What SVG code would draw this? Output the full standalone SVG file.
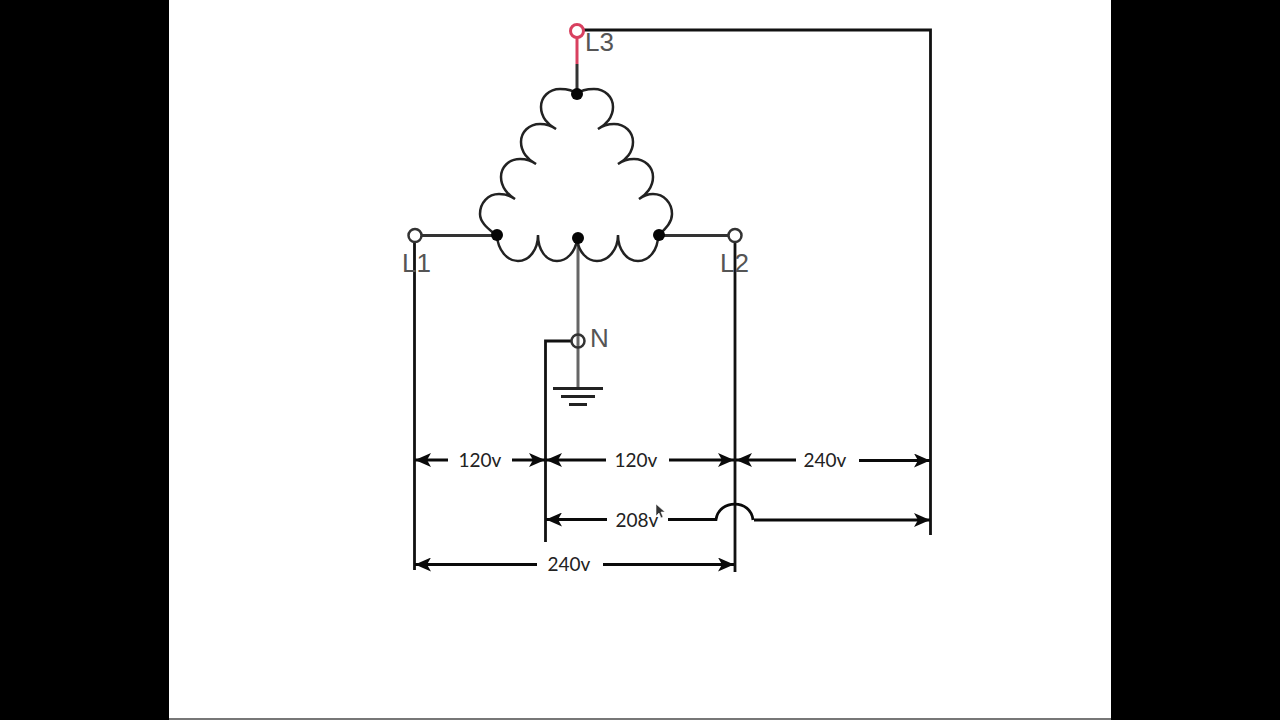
<svg xmlns="http://www.w3.org/2000/svg" width="1280" height="720" viewBox="0 0 1280 720">
<defs>
<marker id="arr" viewBox="0 0 17 14" refX="16" refY="7" markerWidth="17" markerHeight="14" markerUnits="userSpaceOnUse" orient="auto-start-reverse"><path d="M0 0L16 7L0 14L4 7Z" fill="#0a0a0a"/></marker>
</defs>
<style>
.w{fill:none;stroke:#111;stroke-width:2.800}
.g{fill:none;stroke:#666;stroke-width:3}
.coil{fill:none;stroke:#222;stroke-width:2.500}
.dim{fill:none;stroke:#0a0a0a;stroke-width:2.800;marker-end:url(#arr)}
.lbl{font-family:"Liberation Sans",Arial,sans-serif;font-size:26px;fill:#555}
.val{font-family:Lato,"Liberation Sans",sans-serif;font-size:19px;fill:#222;text-anchor:middle}
.dot{fill:#050505}
.term{fill:#fff;stroke:#333;stroke-width:2.500}
</style>
<rect width="1280" height="720" fill="#000"/>
<rect x="169" y="0" width="942" height="718" fill="#fff"/>
<rect x="169" y="718" width="942" height="2" fill="#777"/>
<g id="connectors">
<path class="w" d="M583 30H930.500V535"/>
<path class="g" d="M577 64V92" style="stroke:#333"/>
<path d="M577 38V64" fill="none" stroke="#d8405f" stroke-width="3"/>
<path class="w" d="M422 235.500H497M662 235.500H728" style="stroke:#333"/>
<path class="w" d="M414.500 243V570M735 243V572"/>
<path class="g" d="M578 242V388"/>
<path class="w" d="M571 341H545.500V542"/>
</g>
<g id="coil"><path class="coil" d="M577 94C573 90 566 89 560 89C549 89 541 97 541 107C541 117 548 125 556 129C552 126 546 124 540 124C529 124 521 132 521 142C521 152 528 160 536 164C532 161 526 159 520 159C509 159 501 167 501 177C501 187 508 195 515 199C511 196 505 194 499 194C488 194 480 203 480 214C480 223 489 229 497 236C498 250 507 261 518 261C529 261 538 250 538 235C538 250 546 261 557 261C567 261 575 252 577 240C579 252 587 261 597 261C608 261 618 250 618 235C618 250 627 261 638 261C649 261 658 250 658 236C665 229 672 223 672 214C672 203 664 194 653 194C647 194 643 196 639 199C646 195 653 187 653 177C653 167 645 159 634 159C628 159 622 161 618 164C626 160 633 152 633 142C633 132 625 124 614 124C608 124 602 126 598 129C606 125 613 117 613 107C613 97 605 89 594 89C588 89 581 90 577 94"/></g>
<g id="node-center-top"><circle class="dot" cx="577" cy="94" r="6"/></g>
<g id="node-center-left"><circle class="dot" cx="497" cy="235" r="6"/></g>
<g id="node-center-mid"><circle class="dot" cx="578" cy="238" r="6"/></g>
<g id="node-center-right"><circle class="dot" cx="659" cy="235" r="6"/></g>
<g id="L3"><circle class="term" cx="577" cy="31" r="6.500" style="stroke:#d8405f;stroke-width:3"/><text class="lbl" x="585" y="51">L3</text></g>
<g id="L1"><circle class="term" cx="415" cy="235.500" r="6.500"/><text class="lbl" x="402" y="272">L1</text></g>
<g id="L2"><circle class="term" cx="735" cy="235.500" r="6.500"/><text class="lbl" x="720" y="272">L2</text></g>
<g id="N"><circle class="term" cx="578" cy="341" r="6.500" style="fill:none"/><text class="lbl" x="590" y="347">N</text></g>
<g id="ground"><path d="M553 388.500H603M561 396.500H595M569 404.500H587" fill="none" stroke="#222" stroke-width="2.800"/></g>
<g id="dimensions">
<path class="dim" d="M448 460H415"/><path class="dim" d="M512 460H545"/>
<path class="dim" d="M606 460H546"/><path class="dim" d="M669 460H734"/>
<path class="dim" d="M796 460H736"/><path class="dim" d="M859 460.500H930"/>
<path class="dim" d="M607 519.500H546"/>
<path d="M668 519.500H716C719 499 751 499 753 520" fill="none" stroke="#0a0a0a" stroke-width="2.800"/>
<path class="dim" d="M754 520H930"/>
<path class="dim" d="M537 564.500H415"/><path class="dim" d="M603 564.500H734"/>
<text class="val" x="480" y="467">120v</text>
<text class="val" x="636" y="467">120v</text>
<text class="val" x="825" y="467">240v</text>
<text class="val" x="637" y="527">208v</text>
<text class="val" x="569" y="571">240v</text>
</g>
<path id="cursor" d="M656 504V516L659 513L661 518L663 517L661 512L665 512Z" fill="#333" stroke="#fff" stroke-width=".6"/>
</svg>
